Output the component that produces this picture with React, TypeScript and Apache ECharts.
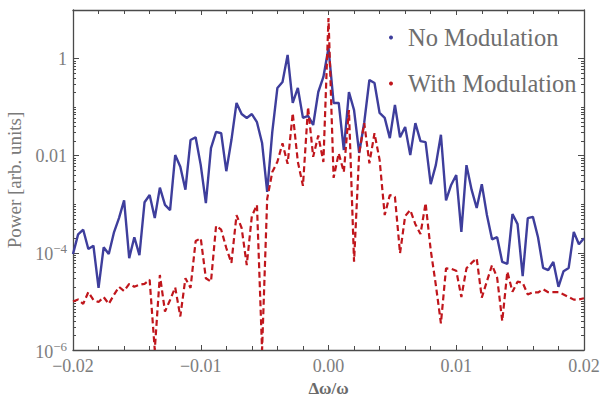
import React, { useEffect, useRef } from 'react';
import * as echarts from 'echarts';

// Δω/ω grid (x values)
const deltaOmega = [
  -0.02, -0.0196, -0.0192, -0.0188, -0.0184, -0.018, -0.0176, -0.0172, -0.0168, -0.0164,
  -0.016, -0.0156, -0.0152, -0.0148, -0.0144, -0.014, -0.0136, -0.0132, -0.0128, -0.0124,
  -0.012, -0.0116, -0.0112, -0.0108, -0.0104, -0.01, -0.0096, -0.0092, -0.0088, -0.0084,
  -0.008, -0.0076, -0.0072, -0.0068, -0.0064, -0.006, -0.0056, -0.0052, -0.0048, -0.0044,
  -0.004, -0.0036, -0.0032, -0.0028, -0.0024, -0.002, -0.0016, -0.0012, -0.0008, -0.0004,
  0, 0.0004, 0.0008, 0.0012, 0.0016, 0.002, 0.0024, 0.0028, 0.0032, 0.0036,
  0.004, 0.0044, 0.0048, 0.0052, 0.0056, 0.006, 0.0064, 0.0068, 0.0072, 0.0076,
  0.008, 0.0084, 0.0088, 0.0092, 0.0096, 0.01, 0.0104, 0.0108, 0.0112, 0.0116,
  0.012, 0.0124, 0.0128, 0.0132, 0.0136, 0.014, 0.0144, 0.0148, 0.0152, 0.0156,
  0.016, 0.0164, 0.0168, 0.0172, 0.0176, 0.018, 0.0184, 0.0188, 0.0192, 0.0196,
  0.02,
];

const noModulation = [
  9.5e-5, 2.4e-4, 3.0e-4, 1.2e-4, 1.4e-4, 1.9e-5, 1.3e-4, 9.5e-5, 2.6e-4, 5.2e-4,
  1.2e-3, 7.8e-5, 2.1e-4, 9.0e-5, 1.1e-3, 1.55e-3, 5.2e-4, 2.2e-3, 9.7e-4, 7.6e-4,
  1.03e-2, 5.9e-3, 2.0e-3, 2.1e-2, 2.4e-2, 6.4e-3, 1.06e-3, 1.44e-2, 3.1e-2, 2.9e-2,
  4.8e-3, 2.1e-2, 0.122, 7.2e-2, 6.0e-2, 7.2e-2, 4.9e-2, 1.83e-2, 1.8e-3, 3.1e-2,
  0.248, 0.33, 1.19, 0.122, 0.248, 6.0e-2, 6.6e-2, 4.3e-2, 0.205, 0.418,
  1.65, 0.122, 0.122, 1.31e-2, 0.205, 8.7e-2, 1.14e-2, 4.9e-2, 0.362, 0.314,
  7.6e-2, 6.0e-2, 2.3e-2, 0.111, 2.4e-2, 3.9e-2, 1.03e-2, 4.7e-2, 2.0e-2, 1.9e-2,
  2.6e-3, 6.4e-3, 2.7e-2, 1.2e-3, 2.5e-3, 4.0e-3, 2.7e-4, 6.4e-3, 2.0e-3, 8.4e-4,
  2.6e-3, 6.0e-4, 1.9e-4, 2.1e-4, 6.5e-5, 5.9e-5, 6.3e-4, 3.9e-4, 3.3e-5, 5.2e-4,
  5.5e-4, 2.1e-4, 4.9e-5, 4.4e-5, 6.5e-5, 2.0e-5, 4.2e-5, 4.9e-5, 2.7e-4, 1.5e-4,
  2.0e-4,
];

const withModulation = [
  1.0e-5, 1.1e-5, 8.9e-6, 1.56e-5, 1.07e-5, 9.7e-6, 1.23e-5, 8.9e-6, 1.36e-5, 2.0e-5,
  1.64e-5, 2.3e-5, 2.0e-5, 2.2e-5, 2.3e-5, 2.8e-5, 1e-6, 3.5e-5, 6.2e-6, 1.07e-5,
  1.94e-5, 4.9e-6, 3.0e-5, 1.9e-5, 1.75e-4, 2.0e-4, 3.0e-5, 2.55e-5, 3.6e-4, 3.0e-4,
  1.26e-4, 6.2e-5, 6.0e-4, 3.25e-4, 5.6e-5, 5.7e-4, 9.7e-4, 1e-6, 1.29e-3, 4.6e-3,
  7.5e-3, 1.8e-2, 6.8e-3, 7.5e-2, 7.5e-3, 2.4e-3, 0.1, 9.5e-3, 2.6e-2, 7.4e-3,
  6.85, 3.5e-3, 1.12e-2, 4.6e-3, 8.7e-2, 6.6e-5, 1.12e-2, 4.7e-2, 7.0e-3, 2.9e-2,
  8.2e-3, 6.0e-4, 1.55e-3, 1.43e-3, 9.8e-5, 5.7e-4, 7.6e-4, 3.9e-4, 2.44e-4, 1.06e-3,
  1.15e-4, 2.2e-5, 3.55e-6, 4.8e-5, 4.7e-5, 4.3e-5, 1.23e-5, 4.8e-5, 6.2e-5, 7.7e-5,
  1.2e-5, 2.6e-5, 5.6e-5, 3.1e-5, 3.95e-6, 4.1e-5, 1.58e-5, 2.55e-5, 2.43e-5, 1.39e-5,
  1.55e-5, 1.53e-5, 1.78e-5, 1.55e-5, 1.55e-5, 1.55e-5, 1.39e-5, 1.23e-5, 1.09e-5, 1.1e-5,
  1.16e-5,
];

const seriesNames = ['No Modulation', 'With Modulation'];
const yLabelValues = [1e-6, 1e-4, 1e-2, 1];
const xAxisName = 'Δω/ω';
const yAxisName = 'Power [arb. units]';

const FRAME = '#4a4a4a';
const LABEL = '#7d7d7d';
const BLUE = '#3e3e9c';
const RED = '#c0161c';
const FONT = '"Liberation Serif", "Times New Roman", serif';

export default function App() {
  const ref = useRef<HTMLDivElement>(null);

  useEffect(() => {
    if (!ref.current) return;
    const chart = echarts.init(ref.current, null, { renderer: 'svg' });

    const minorY: number[] = [];
    for (let e = -6; e <= -1; e++) {
      for (let m = 1; m <= 9; m++) {
        if (m === 1 && e % 2 === 0) continue;
        minorY.push(m * Math.pow(10, e));
      }
    }

    const xFormatter = (v: number) => {
      const s = Math.abs(v).toFixed(2);
      return v < -1e-9 ? '\u2212' + s : s;
    };
    const yFormatter = (v: number) => {
      const e = Math.round(Math.log10(v));
      if (e === 0) return '1';
      if (e === -2) return '0.01';
      return `{b|10}{s|\u2212${-e}}`;
    };

    const xCommon = {
      type: 'value' as const,
      min: -0.02,
      max: 0.02,
      interval: 0.01,
      axisLine: { show: true, onZero: false, lineStyle: { color: FRAME, width: 1.3 } },
      axisTick: { show: true, inside: true, length: 5, lineStyle: { color: FRAME } },
      minorTick: { show: true, splitNumber: 5, length: 4, lineStyle: { color: FRAME } },
      splitLine: { show: false },
      minorSplitLine: { show: false },
    };

    const yCommon = {
      type: 'log' as const,
      logBase: 10,
      min: 1e-6,
      max: 10,
      splitLine: { show: false },
    };

    chart.setOption({
      animation: false,
      backgroundColor: '#ffffff',
      grid: { left: 73, right: 17, top: 10, bottom: 47, containLabel: false, outerBoundsMode: 'none' },
      legend: {
        data: seriesNames.map((n) => ({ name: n, icon: 'circle' })),
        orient: 'vertical',
        left: 384,
        top: 20,
        itemWidth: 24,
        itemHeight: 4,
        itemGap: 21,
        textStyle: { fontFamily: FONT, fontSize: 24.5, color: '#6e6e6e' },
      },
      xAxis: [
        {
          ...xCommon,
          position: 'bottom',
          axisLabel: { formatter: xFormatter, margin: 7, color: LABEL, fontFamily: FONT, fontSize: 18 },
          name: xAxisName,
          nameLocation: 'middle',
          nameGap: 26,
          nameTextStyle: { fontFamily: FONT, fontSize: 17, lineHeight: 17, fontWeight: 'bold', color: '#6a6a6a' },
        },
        {
          ...xCommon,
          position: 'top',
          axisLabel: { show: false },
        },
      ],
      yAxis: [
        {
          ...yCommon,
          position: 'left',
          axisLine: { show: true, onZero: false, lineStyle: { color: FRAME, width: 1.3 } },
          axisTick: { show: true, inside: true, length: 6, customValues: yLabelValues, lineStyle: { color: FRAME } },
          axisLabel: {
            customValues: yLabelValues,
            formatter: yFormatter,
            margin: 6,
            color: LABEL,
            fontFamily: FONT,
            fontSize: 18,
            rich: {
              b: { fontFamily: FONT, fontSize: 18, color: LABEL, verticalAlign: 'bottom' },
              s: { fontFamily: FONT, fontSize: 13, color: LABEL, verticalAlign: 'bottom', padding: [0, 0, 8, 0] },
            },
          },
          name: yAxisName,
          nameLocation: 'middle',
          nameGap: 45,
          nameTextStyle: { fontFamily: FONT, fontSize: 19, color: '#7a7a7a' },
        },
        {
          ...yCommon,
          position: 'left',
          axisLine: { show: false, onZero: false },
          axisTick: { show: true, inside: true, length: 3, customValues: minorY, lineStyle: { color: FRAME } },
          axisLabel: { show: false },
        },
        {
          ...yCommon,
          position: 'right',
          axisLine: { show: true, onZero: false, lineStyle: { color: FRAME, width: 1.3 } },
          axisTick: { show: true, inside: true, length: 6, customValues: yLabelValues, lineStyle: { color: FRAME } },
          axisLabel: { show: false },
        },
        {
          ...yCommon,
          position: 'right',
          axisLine: { show: false, onZero: false },
          axisTick: { show: true, inside: true, length: 3, customValues: minorY, lineStyle: { color: FRAME } },
          axisLabel: { show: false },
        },
      ],
      series: [
        {
          name: seriesNames[0],
          type: 'line',
          xAxisIndex: 0,
          yAxisIndex: 0,
          data: deltaOmega.map((x, i) => [x, noModulation[i]]),
          symbol: 'none',
          showSymbol: false,
          color: BLUE,
          lineStyle: { color: BLUE, width: 2.4 },
          z: 2,
        },
        {
          name: seriesNames[1],
          type: 'line',
          xAxisIndex: 0,
          yAxisIndex: 0,
          data: deltaOmega.map((x, i) => [x, withModulation[i]]),
          symbol: 'none',
          showSymbol: false,
          color: RED,
          lineStyle: { color: RED, width: 2.2, type: [6, 3.5] },
          z: 3,
        },
      ],
    });

    return () => chart.dispose();
  }, []);

  return (
    <div
      ref={ref}
      style={{ position: 'fixed', left: 0, top: 0, width: 601, height: 397, background: '#fff' }}
    />
  );
}
